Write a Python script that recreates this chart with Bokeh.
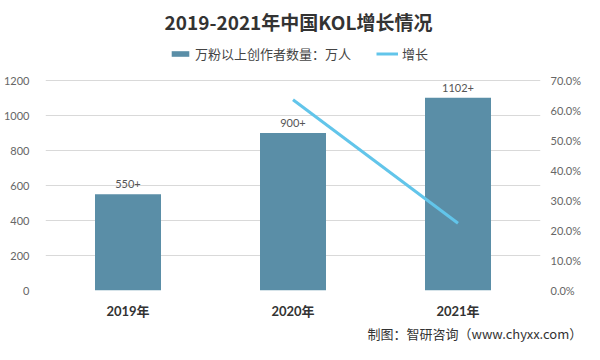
from bokeh.plotting import figure
from bokeh.models import (Range1d, LinearAxis, FixedTicker, NumeralTickFormatter, Title,
                          Label, LabelSet, ColumnDataSource, Legend, LegendItem, FactorRange)
from bokeh.core.properties import value
from bokeh.embed import file_html
from bokeh.resources import INLINE

years = ["2019年", "2020年", "2021年"]
creators = [550, 900, 1102]
creator_labels = ["550+", "900+", "1102+"]
growth_years = ["2020年", "2021年"]
growth = [0.636, 0.224]
left_ticks = [0, 200, 400, 600, 800, 1000, 1200]
right_ticks = [0.0, 0.1, 0.2, 0.3, 0.4, 0.5, 0.6, 0.7]

title_text = "2019-2021年中国KOL增长情况"
bar_name = "万粉以上创作者数量：万人"
line_name = "增长"
source_text = "制图：智研咨询（www.chyxx.com）"

CJK = "Noto Sans CJK SC"
NUM = "Lato, 'Noto Sans CJK SC'"

W, H = 584, 344
FL, FR, FB = 45, 551, 290      # frame left/right/bottom (frame top = canvas top)
TOP_TICK_Y = 80                 # canvas y of the 1200 / 70% gridline
scale = FB / (FB - TOP_TICK_Y)  # frame extends above the plotting area for title/legend

p = figure(width=W, height=H, output_backend="svg", toolbar_location=None,
           x_range=FactorRange(*years, range_padding=0),
           y_range=Range1d(0, left_ticks[-1] * scale),
           min_border_left=FL, min_border_right=W - FR, min_border_top=0,
           min_border_bottom=H - FB)
p.outline_line_color = None
p.background_fill_color = "white"
p.border_fill_color = "white"

p.extra_y_ranges = {"pct": Range1d(0, right_ticks[-1] * scale)}

src = ColumnDataSource(dict(x=years, y=creators, lab=creator_labels))
bars = p.vbar(x="x", top="y", width=0.4, source=src, fill_color="#5a8ea7",
              line_color=None)
gsrc = ColumnDataSource(dict(x=growth_years, y=growth))
line = p.line(x="x", y="y", source=gsrc, y_range_name="pct", line_color="#62c5ea",
              line_width=3)

labels = LabelSet(x="x", y="y", text="lab", source=src, y_offset=6, text_align="center",
                  text_baseline="bottom", text_font_size="11px", text_color="#555555",
                  text_font=value(NUM))
p.add_layout(labels)

# axes
p.yaxis.ticker = FixedTicker(ticks=left_ticks)
ax = p.yaxis[0]
ax.axis_line_color = None
ax.major_tick_line_color = None
ax.minor_tick_line_color = None
ax.major_label_text_font_size = "11px"
ax.major_label_text_color = "#666666"
ax.major_label_text_font = NUM
ax.major_label_standoff = 10

rax = LinearAxis(y_range_name="pct", ticker=FixedTicker(ticks=right_ticks),
                 formatter=NumeralTickFormatter(format="0.0%"))
rax.axis_line_color = None
rax.major_tick_line_color = None
rax.minor_tick_line_color = None
rax.major_label_text_font_size = "11px"
rax.major_label_text_color = "#666666"
rax.major_label_text_font = NUM
rax.major_label_standoff = 4
p.add_layout(rax, "right")

p.xaxis.axis_line_color = None
p.xaxis.major_tick_line_color = None
p.xaxis.major_label_text_font_size = "13px"
p.xaxis.major_label_text_font_style = "bold"
p.xaxis.major_label_text_color = "#333333"
p.xaxis.major_label_text_font = NUM
p.xaxis.major_label_standoff = 6

p.xgrid.grid_line_color = None
p.ygrid.grid_line_color = "#d9d9d9"
p.ygrid.ticker = FixedTicker(ticks=left_ticks)

# title inside the (extended) frame, screen units relative to frame bottom-left
p.add_layout(Label(x=298 - FL, y=FB - 21, x_units="screen", y_units="screen",
                   text=title_text, text_align="center", text_baseline="middle",
                   text_font=CJK, text_font_size="19px", text_font_style="bold",
                   text_color="#333333"))

legend = Legend(items=[LegendItem(label=bar_name, renderers=[bars]),
                       LegendItem(label=line_name, renderers=[line])],
                orientation="horizontal", location=(169 - FL, FB - 63),
                glyph_width=22, glyph_height=7, label_standoff=4, spacing=25,
                padding=0, margin=0, border_line_color=None, background_fill_alpha=0,
                label_text_font=CJK, label_text_font_size="13px",
                label_text_color="#444444", label_height=16)
p.add_layout(legend)

p.add_layout(Title(text=source_text, align="left", text_font=CJK, text_font_size="13px",
                   text_font_style="normal", text_color="#333333", offset=322,
                   standoff=0), "below")

open("out.html", "w").write(file_html(p, INLINE))
